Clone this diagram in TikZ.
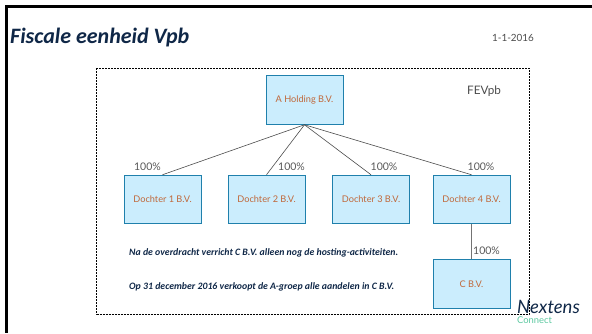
\documentclass[tikz,border=0pt]{standalone}
\usepackage{fontspec}
\setmainfont{Carlito}
\newfontfamily\latofont{Lato}
\definecolor{boxfill}{HTML}{CBEDFD}
\definecolor{boxline}{HTML}{1F80AC}
\definecolor{boxtext}{HTML}{C0683A}
\definecolor{titleblue}{HTML}{0F2747}
\definecolor{logogreen}{HTML}{5CC8A0}
\tikzset{
  company/.style={draw=boxline,fill=boxfill,line width=1pt,minimum width=77pt,minimum height=48.5pt,inner sep=0pt,text=boxtext,font=\latofont\fontsize{9.2}{11}\selectfont},
  share/.style={text=black!65,font=\latofont\fontsize{10.5}{12}\selectfont,inner sep=0pt},
  note/.style={text=titleblue,anchor=west,inner sep=0pt,font=\fontsize{9.8}{11}\selectfont\bfseries\itshape},
  owner/.style={draw=black!70,line width=0.6pt}
}
\begin{document}
\begin{tikzpicture}[x=1pt,y=-1pt]
  \useasboundingbox (0,0) rectangle (592,333);
  % slide frame
  \fill[black] (5,5) rectangle (592,8);
  \fill[black] (5,5) rectangle (8,333);
  \node[anchor=west,inner sep=0pt,text=titleblue,font=\fontsize{22}{26}\selectfont\bfseries\itshape] (title) at (10,37.5) {Fiscale eenheid Vpb};
  \node[text=black!70,inner sep=0pt,font=\latofont\fontsize{9.9}{12}\selectfont] (date) at (513,37.5) {1-1-2016};
  % fiscal unity
  \draw[line width=0.6pt,dash pattern=on 2pt off 1pt] (96.5,68) rectangle (529,314);
  \node[text=black!70,inner sep=0pt,font=\latofont\fontsize{11.7}{14}\selectfont] (fevpb) at (484,91) {FEVpb};
  \node[company] (holding) at (304.5,100) {A Holding B.V.};
  \node[company] (d1) at (162.5,199.5) {Dochter 1 B.V.};
  \node[company] (d2) at (266.5,199.5) {Dochter 2 B.V.};
  \node[company] (d3) at (371,199.5) {Dochter 3 B.V.};
  \node[company] (d4) at (471.5,199.5) {Dochter 4 B.V.};
  \node[company] (cbv) at (471.5,284) {C B.V.};
  \draw[owner] (holding.south) -- (d1.north);
  \draw[owner] (holding.south) -- (d2.north);
  \draw[owner] (holding.south) -- (d3.north);
  \draw[owner] (holding.south) -- (d4.north);
  \draw[draw=black!55,line width=1pt] (d4.south) -- (cbv.north);
  \node[share] (p1) at (147.5,167) {100\%};
  \node[share] (p2) at (291.5,167) {100\%};
  \node[share] (p3) at (384,167) {100\%};
  \node[share] (p4) at (481,167) {100\%};
  \node[share] (p5) at (486.5,251) {100\%};
  \node[note] (n1) at (129,253) {Na de overdracht verricht C B.V. alleen nog de hosting-activiteiten.};
  \node[note] (n2) at (129,287) {Op 31 december 2016 verkoopt de A-groep alle aandelen in C B.V.};
  % logo
  \node[anchor=west,inner sep=0pt,text=titleblue,font=\latofont\fontsize{18.5}{22}\selectfont\itshape] (logo) at (517,306.5) {Nextens};
  \node[anchor=west,inner sep=0pt,text=logogreen,font=\latofont\fontsize{9.4}{11}\selectfont] (connect) at (517,320.5) {Connect};
\end{tikzpicture}
\end{document}
